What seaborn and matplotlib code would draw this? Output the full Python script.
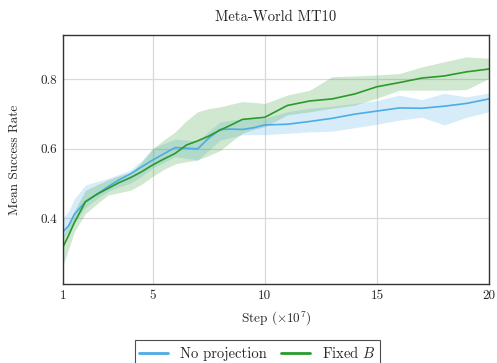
import numpy as np
import pandas as pd
import matplotlib
matplotlib.use("Agg")
import matplotlib.pyplot as plt
import seaborn as sns
from matplotlib.lines import Line2D

steps = [1, 1.25, 1.5, 2, 2.5, 3, 3.5, 4, 4.5, 5, 5.5, 6, 6.5, 7, 7.5, 8, 8.5, 9, 9.5, 10,
         11, 12, 13, 14, 15, 16, 17, 18, 19, 20]

noproj_mean = [0.360, 0.378, 0.410, 0.447, 0.468, 0.490, 0.510, 0.527, 0.547, 0.567,
               0.585, 0.603, 0.601, 0.599, 0.630, 0.655, 0.656, 0.655, 0.660, 0.668,
               0.670, 0.678, 0.687, 0.699, 0.708, 0.717, 0.716, 0.722, 0.730, 0.743]
noproj_low = [0.345, 0.360, 0.385, 0.430, 0.455, 0.476, 0.490, 0.500, 0.520, 0.545,
              0.560, 0.577, 0.572, 0.567, 0.595, 0.624, 0.632, 0.640, 0.640, 0.640,
              0.644, 0.648, 0.650, 0.660, 0.670, 0.682, 0.690, 0.668, 0.690, 0.706]
noproj_high = [0.400, 0.420, 0.455, 0.495, 0.505, 0.514, 0.526, 0.538, 0.565, 0.600,
               0.615, 0.627, 0.625, 0.620, 0.650, 0.677, 0.682, 0.685, 0.686, 0.687,
               0.706, 0.716, 0.722, 0.730, 0.738, 0.754, 0.741, 0.759, 0.749, 0.760]

fixed_mean = [0.317, 0.350, 0.386, 0.447, 0.468, 0.485, 0.502, 0.516, 0.533, 0.553,
              0.570, 0.586, 0.610, 0.622, 0.636, 0.653, 0.668, 0.684, 0.687, 0.690,
              0.724, 0.737, 0.743, 0.757, 0.778, 0.790, 0.803, 0.809, 0.821, 0.829]
fixed_low = [0.265, 0.310, 0.360, 0.413, 0.440, 0.466, 0.473, 0.480, 0.497, 0.520,
             0.540, 0.556, 0.562, 0.567, 0.580, 0.594, 0.620, 0.644, 0.655, 0.663,
             0.697, 0.706, 0.716, 0.725, 0.745, 0.768, 0.768, 0.768, 0.770, 0.802]
fixed_high = [0.345, 0.385, 0.420, 0.480, 0.495, 0.510, 0.522, 0.530, 0.560, 0.600,
              0.625, 0.648, 0.680, 0.706, 0.715, 0.720, 0.728, 0.735, 0.733, 0.730,
              0.754, 0.768, 0.807, 0.809, 0.812, 0.816, 0.835, 0.850, 0.864, 0.860]

labels = ["No projection", "Fixed $B$"]
colors = ["#4dabe6", "#2a9a2a"]
x_ticks = [1, 5, 10, 15, 20]
y_ticks = [0.4, 0.6, 0.8]

sns.set_style("whitegrid")
plt.rcParams["font.family"] = ["cmr10", "DejaVu Serif"]
plt.rcParams["mathtext.fontset"] = "cm"
plt.rcParams["axes.formatter.use_mathtext"] = True

df = pd.DataFrame({
    "step": steps * 2,
    "rate": noproj_mean + fixed_mean,
    "method": [labels[0]] * len(steps) + [labels[1]] * len(steps),
})

fig = plt.figure(figsize=(4.97, 3.63), dpi=100)
ax = fig.add_axes([0.1268, 0.2176, 0.8572, 0.686])

ax.fill_between(steps, noproj_low, noproj_high, color=colors[0], alpha=0.22, linewidth=0)
ax.fill_between(steps, fixed_low, fixed_high, color=colors[1], alpha=0.22, linewidth=0)
sns.lineplot(data=df, x="step", y="rate", hue="method", palette=colors, ax=ax,
             linewidth=1.2, legend=False)

ax.set_xlim(1, 20)
ax.set_ylim(0.21, 0.927)
ax.set_xticks(x_ticks)
ax.set_yticks(y_ticks)
ax.set_xticklabels([str(t) for t in x_ticks])
ax.set_yticklabels([f"{t:.1f}" for t in y_ticks])
ax.tick_params(labelsize=9.5, length=0, pad=4)
ax.grid(True, color="#d9d9d9", linewidth=0.9)
for s in ax.spines.values():
    s.set_color("#333333")
    s.set_linewidth(1.0)

ax.set_title("Meta-World MT10", fontsize=10.5, pad=10)
ax.set_xlabel(r"Step ($\times 10^7$)", fontsize=9.5, labelpad=6)
ax.set_ylabel("Mean Success Rate", fontsize=9.5, labelpad=14)

handles = [Line2D([0], [0], color=c, linewidth=2) for c in colors]
leg = fig.legend(handles, labels, loc="center", bbox_to_anchor=(0.518, 0.028), ncol=2,
                 fontsize=10.5, frameon=True, fancybox=False, edgecolor="#222222",
                 handlelength=2.0, columnspacing=1.0, borderpad=0.3, handletextpad=0.8)
leg.get_frame().set_linewidth(0.8)

fig.savefig("out.png", dpi=100)
